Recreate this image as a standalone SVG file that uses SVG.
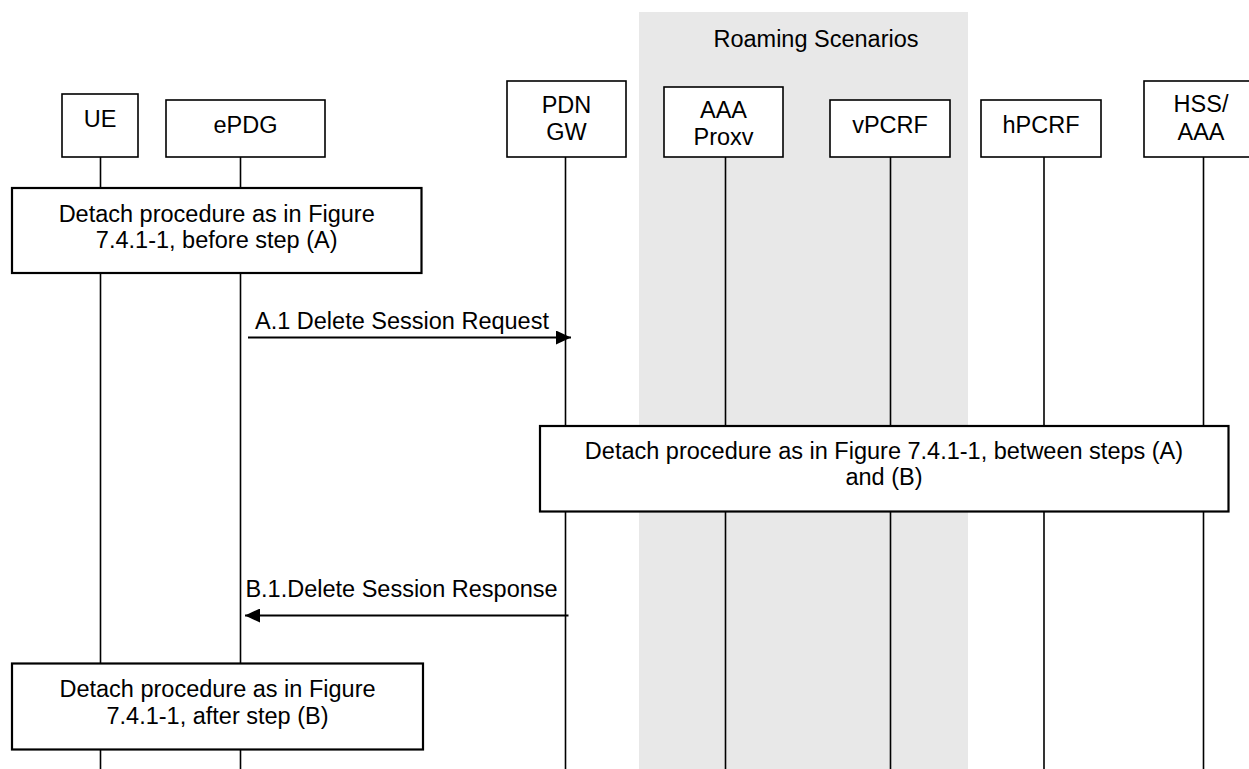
<svg xmlns="http://www.w3.org/2000/svg" width="1249" height="769" viewBox="0 0 1249 769">
<style>
text{font-family:"Liberation Sans",Arial,sans-serif;font-size:23.5px;fill:#000;text-anchor:middle}
.box{fill:#fff;stroke:#000;stroke-width:1.6}
.proc{fill:#fff;stroke:#000;stroke-width:2.2}
.life{stroke:#000;stroke-width:1.6;fill:none}
.msg{stroke:#000;stroke-width:2;fill:none}
</style>
<defs>
<marker id="ah" markerWidth="16" markerHeight="14" refX="15" refY="7" orient="auto" markerUnits="userSpaceOnUse">
<path d="M0,0 L15,7 L0,14 Z" fill="#000"/>
</marker>
</defs>
<rect id="roaming" x="639" y="12" width="329" height="757" fill="#e8e8e8"/>
<text x="816" y="47">Roaming Scenarios</text>
<g id="lifelines">
<line class="life" x1="100.5" y1="155" x2="100.5" y2="769"/>
<line class="life" x1="240.5" y1="155" x2="240.5" y2="769"/>
<line class="life" x1="565.5" y1="155" x2="565.5" y2="769"/>
<line class="life" x1="725.5" y1="155" x2="725.5" y2="769"/>
<line class="life" x1="890.5" y1="155" x2="890.5" y2="769"/>
<line class="life" x1="1044" y1="155" x2="1044" y2="769"/>
<line class="life" x1="1203.5" y1="155" x2="1203.5" y2="769"/>
</g>
<g id="UE"><rect class="box" x="62" y="94" width="76" height="63"/><text x="100" y="127">UE</text></g>
<g id="ePDG"><rect class="box" x="166" y="100" width="159" height="57"/><text x="245.5" y="133">ePDG</text></g>
<g id="PDNGW"><rect class="box" x="507" y="81" width="119" height="76"/><text x="566.5" y="113">PDN</text><text x="566.5" y="140">GW</text></g>
<g id="AAAProxy"><rect class="box" x="664" y="87" width="119" height="70"/><text x="723.5" y="118">AAA</text><text x="723.5" y="145">Proxv</text></g>
<g id="vPCRF"><rect class="box" x="830" y="100" width="120" height="57"/><text x="890" y="133">vPCRF</text></g>
<g id="hPCRF"><rect class="box" x="981" y="100" width="120" height="57"/><text x="1041" y="133">hPCRF</text></g>
<g id="HSSAAA"><rect class="box" x="1144" y="81" width="114" height="76"/><text x="1201" y="112">HSS/</text><text x="1201" y="140">AAA</text></g>
<g id="proc1"><rect class="proc" x="12" y="188" width="409.5" height="85"/><text x="216.7" y="222">Detach procedure as in Figure</text><text x="216.7" y="248">7.4.1-1, before step (A)</text></g>
<g id="proc2"><rect class="proc" x="540" y="426" width="688.5" height="85.5"/><text x="884" y="459">Detach procedure as in Figure 7.4.1-1, between steps (A)</text><text x="884" y="485">and (B)</text></g>
<g id="proc3"><rect class="proc" x="12" y="663.5" width="411" height="86"/><text x="217.5" y="697">Detach procedure as in Figure</text><text x="217.5" y="724">7.4.1-1, after step (B)</text></g>
<g id="connectors">
<line class="msg" x1="248" y1="337.5" x2="571" y2="337.5" marker-end="url(#ah)"/>
<text x="402" y="328.5">A.1 Delete Session Request</text>
<line class="msg" x1="568.5" y1="615.5" x2="245" y2="615.5" marker-end="url(#ah)"/>
<text x="401.5" y="596.5">B.1.Delete Session Response</text>
</g>
</svg>
